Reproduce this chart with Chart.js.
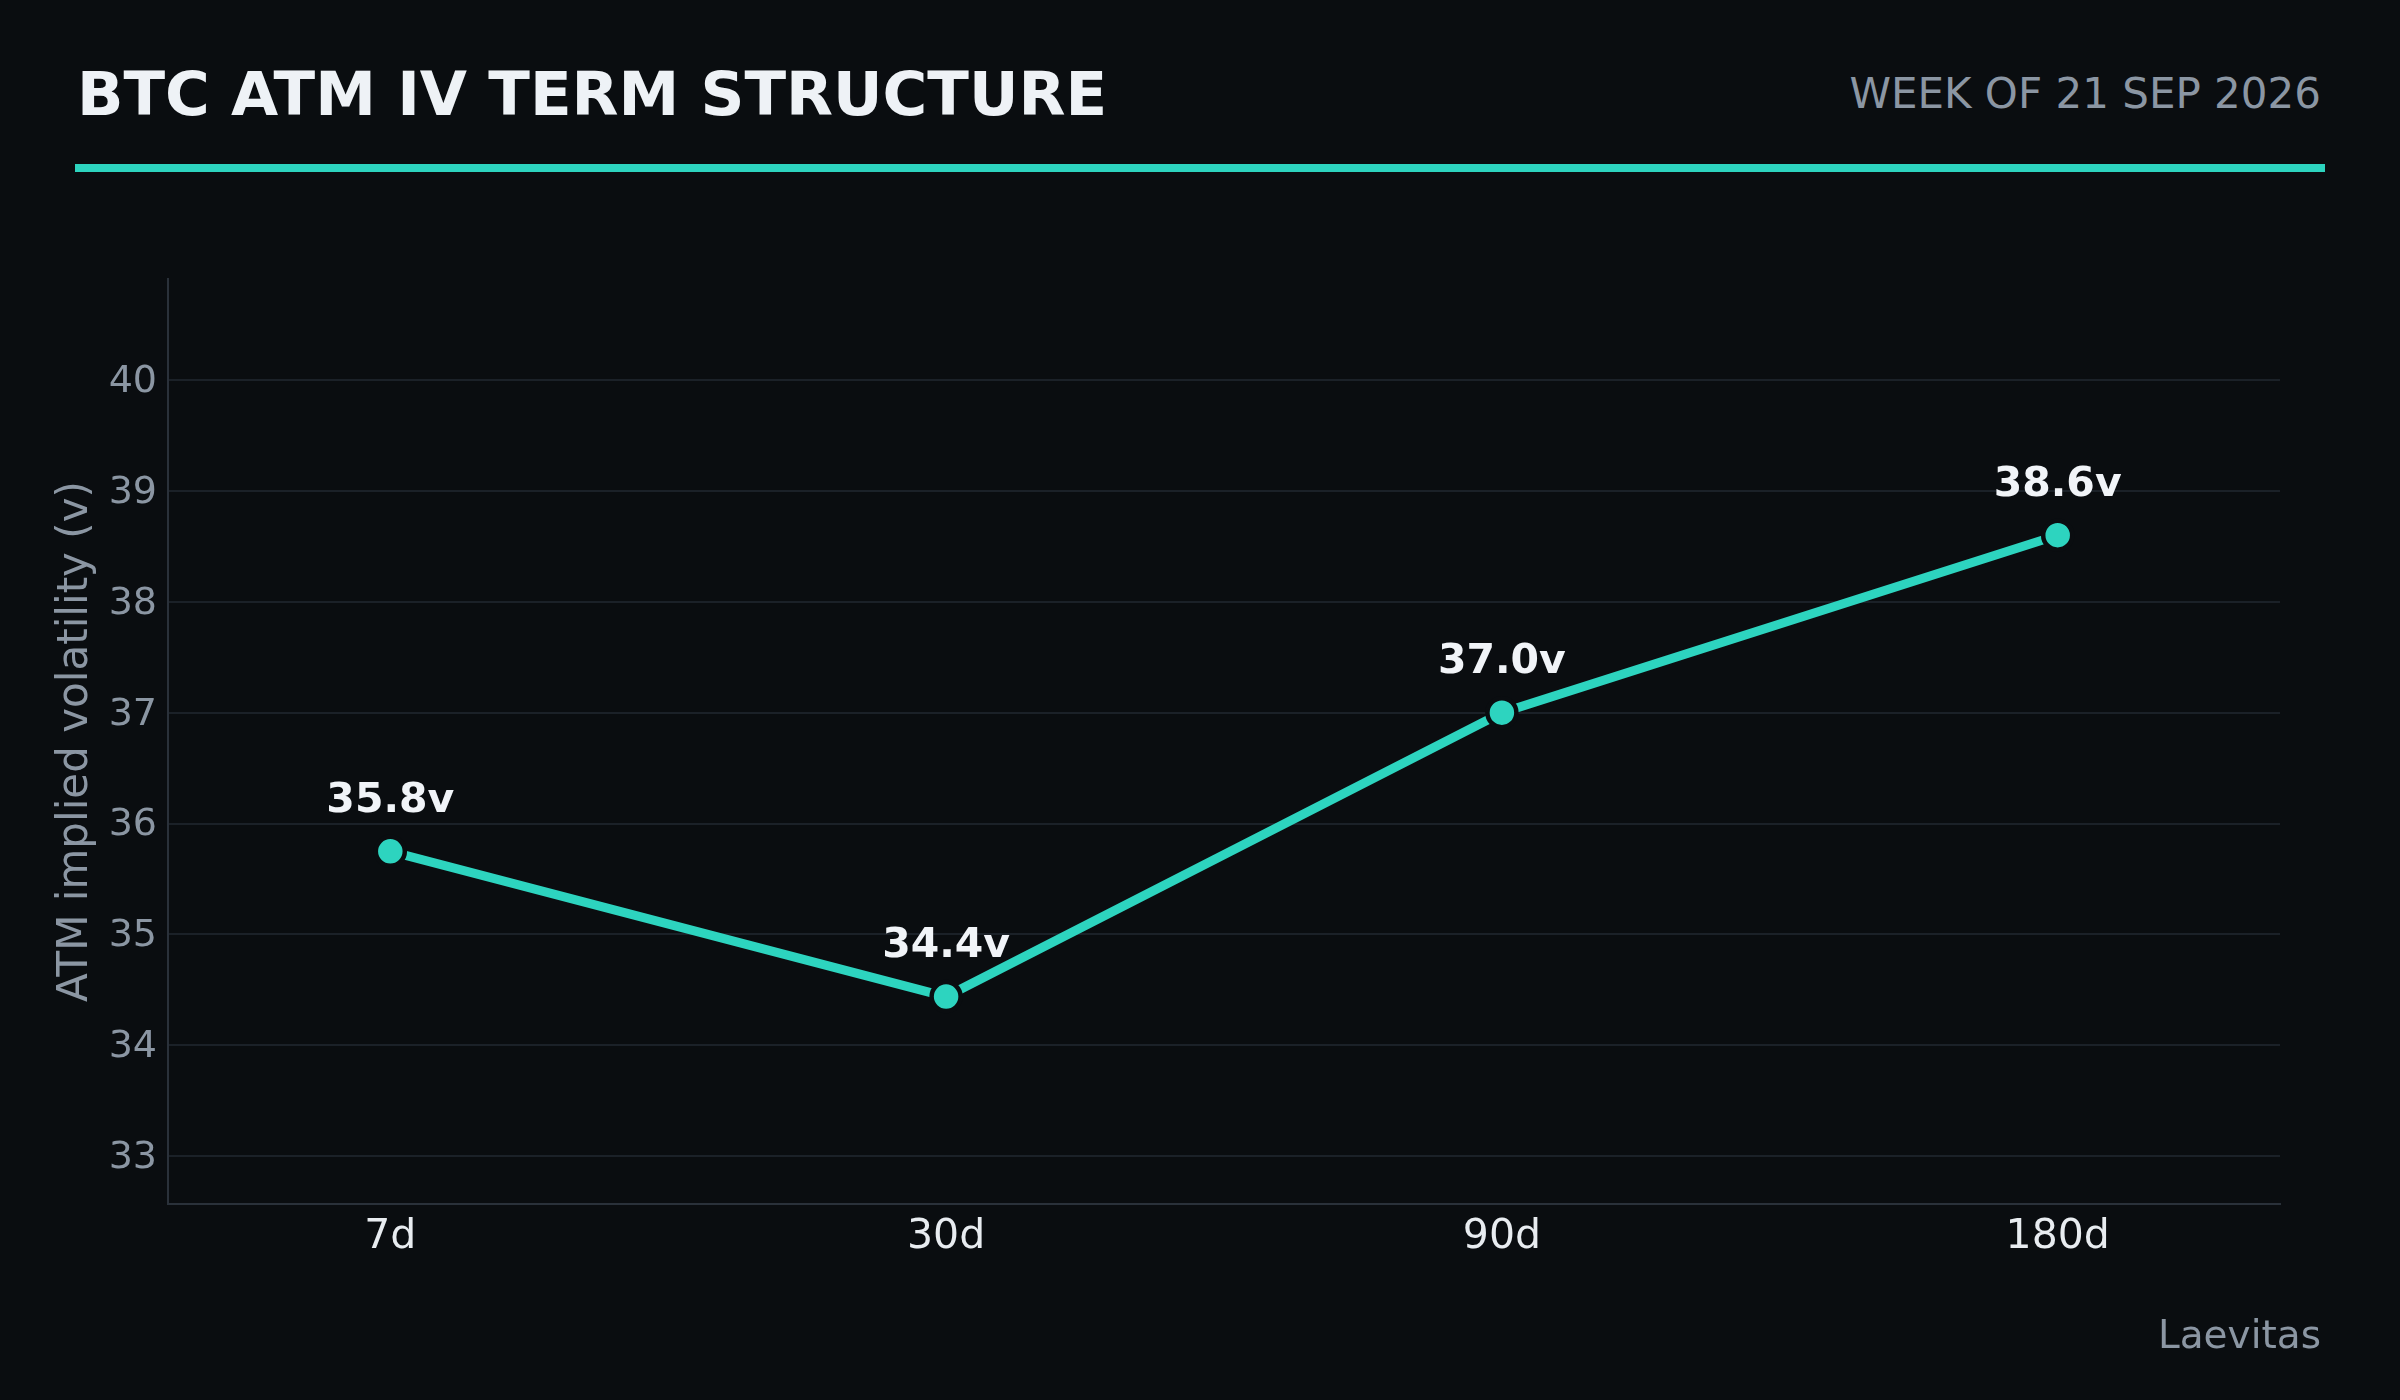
<!DOCTYPE html>
<html><head><meta charset="utf-8">
<script src="https://cdn.jsdelivr.net/npm/chart.js@4.4.1/dist/chart.umd.min.js"></script>
<style>
html,body{margin:0;padding:0;background:#0a0d10;width:2400px;height:1400px;overflow:hidden;}
#wrap{position:relative;width:2400px;height:1400px;background:#0a0d10;}
canvas{position:absolute;left:0;top:0;}
.t{position:absolute;font-family:"DejaVu Sans";line-height:1;white-space:nowrap;}
#rule{position:absolute;left:75px;top:164px;width:2250px;height:8px;background:#2dd4bf;}
</style></head>
<body><div id="wrap">
<div class="t" style="left:77px;top:63px;font-size:61px;font-weight:bold;color:#eef2f6;">BTC ATM IV TERM STRUCTURE</div>
<div class="t" style="right:79px;top:73px;font-size:42px;color:#8b96a3;text-align:right;">WEEK OF 21 SEP 2026</div>
<div id="rule"></div>
<canvas id="c" width="2400" height="1400"></canvas>
<div class="t" style="right:79px;top:1315px;font-size:39px;color:#8b96a3;text-align:right;">Laevitas</div>
</div>
<script>
const categories = ['7d', '30d', '90d', '180d'];
const ivValues = [35.75, 34.44, 37.0, 38.6];
const yTicks = [33, 34, 35, 36, 37, 38, 39, 40];
const yTitle = 'ATM implied volatility (v)';

const TEAL = '#2dd4bf';
const BG = '#0a0d10';
const FONT = 'DejaVu Sans';

const valueLabels = {
  id: 'valueLabels',
  afterDatasetsDraw(chart) {
    const ctx = chart.ctx;
    const meta = chart.getDatasetMeta(0);
    ctx.save();
    ctx.font = 'bold 41px "' + FONT + '"';
    ctx.fillStyle = '#f1f4f8';
    ctx.textAlign = 'center';
    ctx.textBaseline = 'alphabetic';
    meta.data.forEach((p, i) => {
      ctx.fillText(ivValues[i].toFixed(1) + 'v', p.x, p.y - 39.5);
    });
    ctx.restore();
  }
};

const shiftYLabels = {
  id: 'shiftYLabels',
  beforeDraw(chart) {
    try {
      const s = chart.scales.y;
      if (s._shifted) return;
      const items = s.getLabelItems(chart.chartArea);
      items.forEach(it => { it.options.translation[1] += 2; });
      s._shifted = true;
    } catch (e) {}
  }
};

new Chart(document.getElementById('c'), {
  type: 'line',
  data: {
    datasets: [{
      data: categories.map((c, i) => ({x: i, y: ivValues[i]})),
      borderColor: TEAL,
      borderWidth: 9,
      tension: 0,
      pointRadius: 14.5,
      pointHoverRadius: 14.5,
      pointBackgroundColor: TEAL,
      pointBorderColor: BG,
      pointBorderWidth: 4.5,
      fill: false
    }]
  },
  options: {
    responsive: false,
    devicePixelRatio: 1,
    animation: false,
    layout: {padding: {top: 279, right: 120, left: 0, bottom: 0}},
    plugins: {legend: {display: false}, tooltip: {enabled: false}},
    scales: {
      x: {
        type: 'linear',
        min: -0.4,
        max: 3.4,
        afterBuildTicks(s) { s.ticks = categories.map((c, i) => ({value: i})); },
        afterFit(s) { s.height = 196; },
        ticks: {
          callback: (v) => categories[v],
          color: '#e8ecf0',
          font: {family: FONT, size: 41},
          padding: 9
        },
        grid: {display: true, color: 'rgba(0,0,0,0)', drawTicks: false},
        border: {display: true, color: '#2a313a', width: 2}
      },
      y: {
        min: 32.57,
        max: 40.91,
        afterBuildTicks(s) { s.ticks = yTicks.map(v => ({value: v})); },
        afterFit(s) { s.width = 168; },
        ticks: {
          color: '#8b96a3',
          font: {family: FONT, size: 38},
          padding: 11
        },
        grid: {color: '#1b2128', lineWidth: 2, drawTicks: false},
        border: {display: true, color: '#2a313a', width: 2},
        title: {
          display: true,
          text: yTitle,
          color: '#8b96a3',
          font: {family: FONT, size: 42, lineHeight: 1.2},
          padding: {top: 51, bottom: 0}
        }
      }
    }
  },
  plugins: [valueLabels, shiftYLabels]
});
</script>
</body></html>
